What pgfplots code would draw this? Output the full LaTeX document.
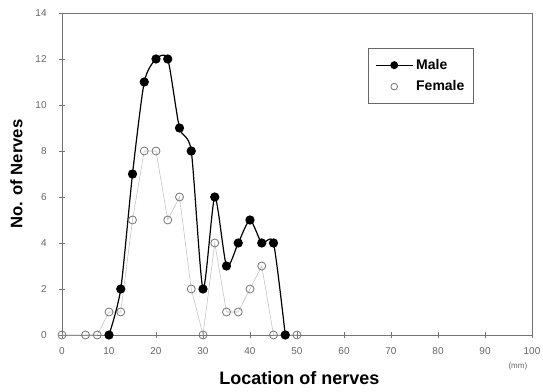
\documentclass[border=0pt]{standalone}
\usepackage{pgfplots}
\pgfplotsset{compat=1.18}
\usepackage{fontspec}
\setmainfont{Liberation Sans}
\begin{document}
\begin{tikzpicture}
\useasboundingbox (-46.5pt,-42.75pt) rectangle (360.75pt,251.25pt);
\begin{axis}[
  at={(0,0)}, anchor=south west,
  scale only axis, width=352.5pt, height=241.5pt,
  xmin=0, xmax=100, ymin=0, ymax=14,
  xtick={0,10,...,100}, ytick={0,2,...,14},
  axis line style={draw=black!55, line width=0.6pt},
  tick style={draw=black!55, line width=0.5pt},
  tick align=center, major tick length=4pt,
  xtick pos=bottom, ytick pos=left,
  /pgf/number format/assume math mode=true,
  tick label style={font=\fontsize{7.5}{8}\selectfont, text=black!60},
  xticklabel style={yshift=-4pt},
  yticklabel style={xshift=-6pt},
  xlabel={\textbf{Location of nerves}},
  ylabel={\textbf{No. of Nerves}},
  xlabel style={font=\fontsize{13.5}{14}\selectfont, at={(axis description cs:0.505,0)}, anchor=north, yshift=-24pt},
  ylabel style={font=\fontsize{12.5}{13}\selectfont, at={(axis description cs:0,0.5)}, anchor=south, yshift=26pt},
  legend style={at={(0.651,0.891)}, anchor=north west, draw=black!60, line width=0.5pt,
    font=\bfseries\fontsize{10.5}{11}\selectfont, inner xsep=5pt, inner ysep=6pt, row sep=3pt},
  legend cell align=left,
  clip=false,
]
\addlegendimage{black, line width=0.9pt, mark=*, mark size=2.5pt,
  legend image code/.code={\draw[mark repeat=2, mark phase=2] plot coordinates {(0pt,0pt) (14pt,0pt) (28pt,0pt)};}}
\addlegendentry{Male}
\addlegendimage{only marks, mark=o, mark size=2.5pt, mark options={draw=black!55, fill=white, line width=0.6pt},
  legend image code/.code={\draw[mark repeat=2, mark phase=2] plot[only marks] coordinates {(0pt,0pt) (14pt,0pt) (28pt,0pt)};}}
\addlegendentry{Female}
\addplot[forget plot, black!25, line width=0.4pt, mark=o, mark size=3pt, mark options={draw=black!55, fill=white, line width=0.6pt}] coordinates {
(0,0) (5,0) (7.5,0) (10,1) (12.5,1) (15,5) (17.5,8) (20,8) (22.5,5) (25,6) (27.5,2) (30,0) (32.5,4) (35,1) (37.5,1) (40,2) (42.5,3) (45,0) (47.5,0) (50,0)
};
\addplot[forget plot, black, line width=0.9pt, smooth, tension=0.4, mark=*, mark size=3pt, mark options={fill=black}] coordinates {
(10,0) (12.5,2) (15,7) (17.5,11) (20,12) (22.5,12) (25,9) (27.5,8) (30,2) (32.5,6) (35,3) (37.5,4) (40,5) (42.5,4) (45,4) (47.5,0)
};
\node[font=\fontsize{6}{7}\selectfont, text=black!60] at (axis cs:97,-1.35) {(mm)};
\end{axis}
\end{tikzpicture}
\end{document}
